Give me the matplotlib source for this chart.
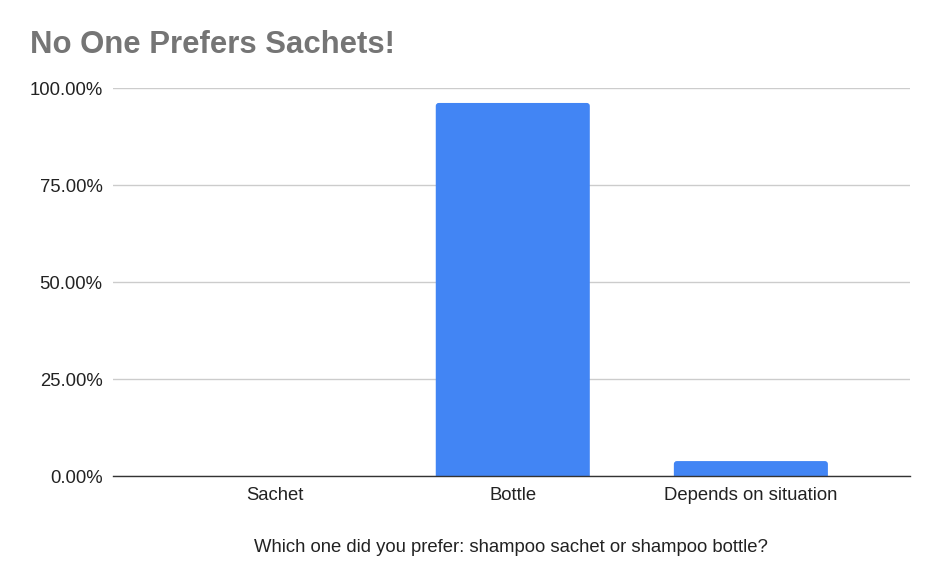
import matplotlib
matplotlib.use("Agg")
import matplotlib.pyplot as plt
from matplotlib.patches import FancyBboxPatch
from matplotlib.ticker import FuncFormatter

# data
categories = ["Sachet", "Bottle", "Depends on situation"]
shares = [0.0, 96.15, 3.85]
yticks = [0, 25, 50, 75, 100]

plt.rcParams["font.family"] = ["Liberation Sans", "DejaVu Sans"]

fig = plt.figure(figsize=(9.4, 5.81), dpi=100)
ax = fig.add_axes([0.120, 0.1807, 0.848, 0.6678])

bars = ax.bar(range(len(categories)), shares, width=0.647, color="#4285f4",
              zorder=3)

ax.set_xlim(-0.68, 2.668)
ax.set_ylim(0, 100)

# swap the plain bars for ones with slightly rounded top corners
x_per_px = (2.668 + 0.68) / (0.848 * 940)
y_per_px = 100.0 / (0.6678 * 581)
for bar in bars:
    h = bar.get_height()
    if h <= 0:
        continue
    rounded = FancyBboxPatch(
        (bar.get_x(), -4 * y_per_px), bar.get_width(), h + 4 * y_per_px,
        boxstyle="round,pad=0,rounding_size=%f" % (3 * x_per_px),
        mutation_aspect=y_per_px / x_per_px,
        facecolor="#4285f4", edgecolor="none", zorder=3,
    )
    ax.add_patch(rounded)
    bar.set_visible(False)

ax.set_yticks(yticks)
ax.yaxis.set_major_formatter(FuncFormatter(lambda v, _: "%.2f%%" % v))
ax.set_xticks(range(len(categories)))
ax.set_xticklabels(categories)
ax.tick_params(axis="both", length=0, labelsize=13.3, colors="#222222")
ax.tick_params(axis="y", pad=7.5)
ax.tick_params(axis="x", pad=8)

ax.grid(True, axis="y", color="#cccccc", linewidth=1.0, zorder=0)
for side in ["top", "right", "left"]:
    ax.spines[side].set_visible(False)
ax.spines["bottom"].set_color("#333333")
ax.spines["bottom"].set_linewidth(1.0)
ax.spines["bottom"].set_zorder(4)

ax.set_xlabel("Which one did you prefer: shampoo sachet or shampoo bottle?",
              fontsize=13.3, color="#222222", labelpad=25)

fig.text(0.032, 0.908, "No One Prefers Sachets!", fontsize=22.4,
         fontweight="bold", color="#757575", ha="left", va="baseline")

fig.savefig("out.png", dpi=100)
